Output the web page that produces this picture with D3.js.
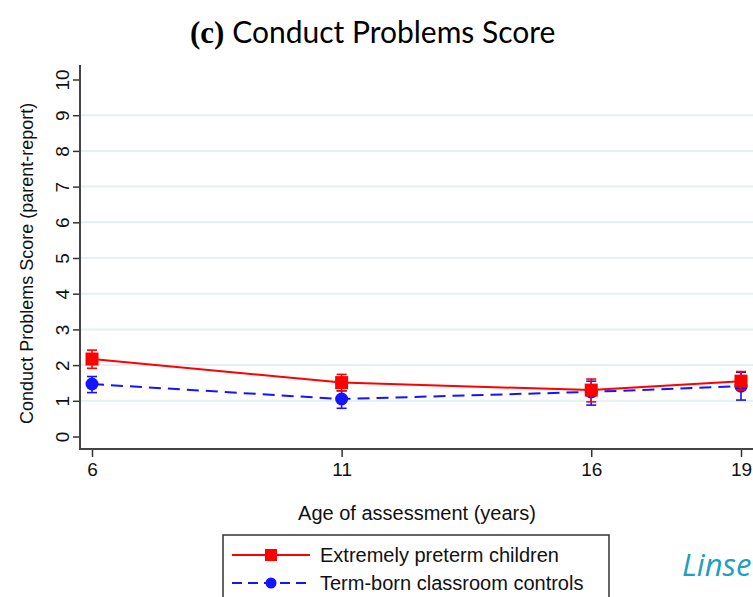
<!DOCTYPE html>
<html>
<head>
<meta charset="utf-8">
<script src="https://cdn.jsdelivr.net/npm/d3@7"></script>
<style>
  body { margin: 0; background: #fff; }
  svg { display: block; }
</style>
</head>
<body>
<svg width="753" height="597"></svg>
<script>
// values
const ages = [6, 11, 16, 19]
const yTicks = [0, 1, 2, 3, 4, 5, 6, 7, 8, 9, 10]

const pretermMean = [2.17, 1.51, 1.30, 1.55]
const pretermLow  = [1.91, 1.28, 0.97, 1.30]
const pretermHigh = [2.42, 1.74, 1.61, 1.82]

const controlMean = [1.47, 1.05, 1.25, 1.41]
const controlLow  = [1.23, 0.79, 0.88, 1.02]
const controlHigh = [1.68, 1.28, 1.55, 1.80]

const seriesNames = ["Extremely preterm children", "Term-born classroom controls"]

const svg = d3.select("svg")
const font = "'Liberation Sans', Arial, sans-serif"

const xScale = d3.scaleLinear().domain([6, 19]).range([92, 741])
const yScale = d3.scaleLinear().domain([0, 10]).range([436.5, 79.5])

// title
const title = svg.append("text")
    .attr("x", 190)
    .attr("y", 43)
title.append("tspan")
    .text("(c) ")
    .style("font-family", "'Liberation Serif', serif")
    .style("font-weight", "bold")
    .style("font-size", "31px")
title.append("tspan")
    .text("Conduct Problems Score")
    .style("font-family", "Lato, 'Open Sans', sans-serif")
    .style("font-size", "30px")

// grid lines (Stata leaves out the ends)
svg.append("g")
    .selectAll("line")
    .data(yTicks.filter(d => d > 0 && d < 10))
    .enter()
    .append("line")
    .attr("x1", 81)
    .attr("x2", 753)
    .attr("y1", d => yScale(d))
    .attr("y2", d => yScale(d))
    .attr("stroke", "#e6eff1")
    .attr("stroke-width", 2)

// y axis
const yAxis = d3.axisLeft(yScale).tickValues(yTicks).tickSize(7).tickPadding(9)
const yG = svg.append("g")
    .attr("id", "yAxisG")
    .attr("transform", "translate(80, 0)")
    .call(yAxis)
yG.select("path.domain").remove()
yG.selectAll("line").attr("stroke", "#333").attr("stroke-width", 1.5)
yG.selectAll("text")
    .attr("x", null)
    .attr("transform", "translate(-18, 0) rotate(-90)")
    .attr("text-anchor", "middle")
    .attr("dy", "0.35em")
    .style("font-family", font)
    .style("font-size", "19px")
    .attr("fill", "#111")

svg.append("line")
    .attr("x1", 80).attr("x2", 80)
    .attr("y1", 65).attr("y2", 449.5)
    .attr("stroke", "#444")
    .attr("stroke-width", 2)

// x axis
const xAxis = d3.axisBottom(xScale).tickValues(ages).tickSize(8).tickPadding(6).tickFormat(d3.format("d"))
const xG = svg.append("g")
    .attr("id", "xAxisG")
    .attr("transform", "translate(0, 449)")
    .call(xAxis)
xG.select("path.domain").remove()
xG.selectAll("line").attr("stroke", "#333").attr("stroke-width", 1.5)
xG.selectAll("text")
    .style("font-family", font)
    .style("font-size", "19px")
    .attr("fill", "#111")

svg.append("line")
    .attr("x1", 79).attr("x2", 753)
    .attr("y1", 449).attr("y2", 449)
    .attr("stroke", "#444")
    .attr("stroke-width", 2)

// axis titles
svg.append("text")
    .attr("x", 417)
    .attr("y", 520)
    .attr("text-anchor", "middle")
    .style("font-family", font)
    .style("font-size", "20px")
    .attr("fill", "#111")
    .text("Age of assessment (years)")

svg.append("text")
    .attr("transform", `translate(33, ${yScale(4.85)}) rotate(-90)`)
    .attr("text-anchor", "middle")
    .style("font-family", font)
    .style("font-size", "18px")
    .attr("fill", "#111")
    .text("Conduct Problems Score (parent-report)")

function drawSeries(mean, low, high, color, dash, marker){
    const g = svg.append("g")
    const idx = d3.range(ages.length)

    g.append("path")
        .datum(idx)
        .attr("d", d3.line().x(i => xScale(ages[i])).y(i => yScale(mean[i])))
        .attr("fill", "none")
        .attr("stroke", color)
        .attr("stroke-width", 2)
        .attr("stroke-dasharray", dash)

    const bars = g.selectAll("g.err")
        .data(idx)
        .enter()
        .append("g")
        .attr("class", "err")
    bars.append("line")
        .attr("x1", i => xScale(ages[i])).attr("x2", i => xScale(ages[i]))
        .attr("y1", i => yScale(low[i])).attr("y2", i => yScale(high[i]))
    bars.append("line")
        .attr("x1", i => xScale(ages[i]) - 5).attr("x2", i => xScale(ages[i]) + 5)
        .attr("y1", i => yScale(low[i])).attr("y2", i => yScale(low[i]))
    bars.append("line")
        .attr("x1", i => xScale(ages[i]) - 5).attr("x2", i => xScale(ages[i]) + 5)
        .attr("y1", i => yScale(high[i])).attr("y2", i => yScale(high[i]))
    bars.selectAll("line").attr("stroke", color).attr("stroke-width", 1.6)

    if (marker == "square") {
        g.selectAll("rect")
            .data(idx)
            .enter()
            .append("rect")
            .attr("x", i => xScale(ages[i]) - 6.5)
            .attr("y", i => yScale(mean[i]) - 6.5)
            .attr("width", 13)
            .attr("height", 13)
            .attr("fill", color)
    } else {
        g.selectAll("circle")
            .data(idx)
            .enter()
            .append("circle")
            .attr("cx", i => xScale(ages[i]))
            .attr("cy", i => yScale(mean[i]))
            .attr("r", 6.5)
            .attr("fill", color)
    }
}

drawSeries(controlMean, controlLow, controlHigh, "#1414ff", "12,7", "circle")
drawSeries(pretermMean, pretermLow, pretermHigh, "#ff0000", null, "square")

// legend
const legend = svg.append("g").attr("transform", "translate(223, 535)")
legend.append("rect")
    .attr("x", 0).attr("y", 0)
    .attr("width", 386).attr("height", 80)
    .attr("fill", "#fff")
    .attr("stroke", "#333")
    .attr("stroke-width", 1.5)

const legendRows = [
    { name: seriesNames[0], color: "#ff0000", dash: null, marker: "square" },
    { name: seriesNames[1], color: "#1414ff", dash: "10,6", marker: "circle" }
]
legendRows.forEach((row, i) => {
    const y = 20 + i * 28
    legend.append("line")
        .attr("x1", 9).attr("x2", 87)
        .attr("y1", y).attr("y2", y)
        .attr("stroke", row.color)
        .attr("stroke-width", 2)
        .attr("stroke-dasharray", row.dash)
    if (row.marker == "square") {
        legend.append("rect")
            .attr("x", 48 - 6).attr("y", y - 6)
            .attr("width", 12).attr("height", 12)
            .attr("fill", row.color)
    } else {
        legend.append("circle")
            .attr("cx", 48).attr("cy", y)
            .attr("r", 5.5)
            .attr("fill", row.color)
    }
    legend.append("text")
        .attr("x", 97)
        .attr("y", y)
        .attr("dy", "0.35em")
        .style("font-family", font)
        .style("font-size", "20px")
        .attr("fill", "#111")
        .text(row.name)
})

svg.append("text")
    .attr("x", 682)
    .attr("y", 576)
    .style("font-family", "'Open Sans', sans-serif")
    .style("font-style", "italic")
    .style("font-size", "31px")
    .attr("fill", "#1ba0c4")
    .text("Linse")
</script>
</body>
</html>
